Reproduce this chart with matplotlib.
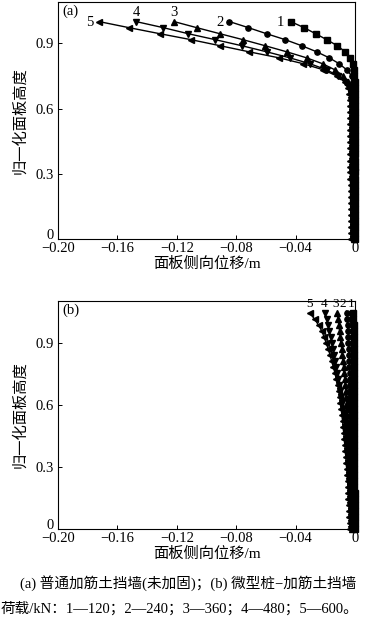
import matplotlib
matplotlib.use("Agg")
import matplotlib.pyplot as plt

plt.rcParams['font.family'] = ['Liberation Serif', 'Noto Sans CJK SC', 'DejaVu Sans']
plt.rcParams['axes.unicode_minus'] = True

# ---------------- data ----------------
heights_a = [0.000, 0.028, 0.056, 0.083, 0.111, 0.139, 0.167, 0.194, 0.222, 0.250,
             0.278, 0.306, 0.333, 0.361, 0.389, 0.417, 0.444, 0.472, 0.500, 0.528,
             0.556, 0.583, 0.611, 0.639, 0.667, 0.694, 0.722, 0.750, 0.778, 0.806,
             0.833, 0.861, 0.889, 0.917, 0.944, 0.972, 1.000]

a_load1 = [-0.0001, -0.0001, -0.0001, -0.0001, -0.0001, -0.0001, -0.0001, -0.0001, -0.0001,
           -0.0002, -0.0002, -0.0002, -0.0002, -0.0002, -0.0002, -0.0002, -0.0002, -0.0002,
           -0.0003, -0.0003, -0.0003, -0.0003, -0.0003, -0.0003, -0.0003, -0.0003, -0.0003,
           -0.0004, -0.0006, -0.0012, -0.0034, -0.0067, -0.0119, -0.0191, -0.0265, -0.0343, -0.0433]
a_load2 = [-0.0004, -0.0004, -0.0004, -0.0004, -0.0004, -0.0004,
           -0.0005, -0.0005, -0.0005, -0.0005, -0.0005, -0.0005,
           -0.0006, -0.0006, -0.0006, -0.0006, -0.0006, -0.0006,
           -0.0007, -0.0007, -0.0007, -0.0007, -0.0008, -0.0008, -0.0008,
           -0.0009, -0.0012, -0.0022, -0.0056, -0.0106, -0.0173, -0.0258, -0.0359,
           -0.0471, -0.0595, -0.0718, -0.0846]
a_load3 = [-0.0008, -0.0008, -0.0008, -0.0009, -0.0009, -0.0009, -0.0010, -0.0010, -0.0010,
           -0.0011, -0.0011, -0.0011, -0.0012, -0.0012, -0.0012, -0.0013, -0.0013, -0.0013,
           -0.0014, -0.0014, -0.0014, -0.0015, -0.0015, -0.0015,
           -0.0018, -0.0025, -0.0045, -0.0079, -0.0135, -0.0218, -0.0325, -0.0460,
           -0.0606, -0.0756, -0.0909, -0.1066, -0.1219]
a_load4 = [-0.0012, -0.0012, -0.0013, -0.0013, -0.0014, -0.0014, -0.0015, -0.0015, -0.0016,
           -0.0016, -0.0017, -0.0017, -0.0018, -0.0018, -0.0019, -0.0019, -0.0020, -0.0020,
           -0.0020, -0.0021, -0.0021, -0.0022, -0.0022,
           -0.0025, -0.0030, -0.0040, -0.0067, -0.0112, -0.0191, -0.0303, -0.0438,
           -0.0595, -0.0763, -0.0943, -0.1122, -0.1291, -0.1475]
a_load5 = [-0.0028, -0.0028, -0.0028, -0.0029, -0.0029, -0.0029, -0.0030, -0.0030, -0.0030,
           -0.0030, -0.0031, -0.0031, -0.0031, -0.0031, -0.0032, -0.0032, -0.0032, -0.0033,
           -0.0033, -0.0033, -0.0034, -0.0034, -0.0034,
           -0.0035, -0.0038, -0.0045, -0.0067, -0.0123, -0.0213, -0.0348, -0.0510,
           -0.0714, -0.0909, -0.1106, -0.1313, -0.1522, -0.1724]

heights_b = [0.000, 0.029, 0.058, 0.087, 0.116, 0.145, 0.174, 0.203, 0.232, 0.261,
             0.290, 0.319, 0.348, 0.377, 0.406, 0.435, 0.464, 0.493, 0.522, 0.551,
             0.580, 0.609, 0.638, 0.667, 0.696, 0.725, 0.754, 0.783, 0.812, 0.841,
             0.870, 0.899, 0.928, 0.957, 0.986, 1.015, 1.044]

b_load1 = [-0.0002, -0.0002, -0.0002, -0.0003, -0.0003, -0.0003, -0.0003, -0.0004, -0.0004,
           -0.0004, -0.0004, -0.0005, -0.0005, -0.0005, -0.0005, -0.0006, -0.0006, -0.0006,
           -0.0006, -0.0007, -0.0007, -0.0007, -0.0007, -0.0008, -0.0008, -0.0008, -0.0008,
           -0.0009, -0.0009, -0.0009, -0.0009, -0.0010, -0.0010, -0.0010, -0.0010, -0.0011, -0.0011]
b_load2 = [-0.0010, -0.0011, -0.0011, -0.0012, -0.0013, -0.0013, -0.0014, -0.0015, -0.0016,
           -0.0017, -0.0018, -0.0019, -0.0020, -0.0021, -0.0023, -0.0024, -0.0026, -0.0027,
           -0.0029, -0.0030, -0.0031, -0.0032, -0.0033, -0.0034, -0.0035, -0.0036, -0.0037,
           -0.0038, -0.0039, -0.0041, -0.0042, -0.0044, -0.0046, -0.0048, -0.0050, -0.0053, -0.0056]
b_load3 = [-0.0018, -0.0019, -0.0020, -0.0021, -0.0022, -0.0023, -0.0025, -0.0026, -0.0028,
           -0.0029, -0.0031, -0.0033, -0.0035, -0.0037, -0.0040, -0.0043, -0.0046, -0.0049,
           -0.0051, -0.0053, -0.0055, -0.0057, -0.0060, -0.0063, -0.0066, -0.0069, -0.0073,
           -0.0077, -0.0081, -0.0085, -0.0089, -0.0094, -0.0099, -0.0104, -0.0109, -0.0114, -0.0119]
b_load4 = [-0.0026, -0.0027, -0.0029, -0.0030, -0.0032, -0.0034, -0.0035, -0.0037, -0.0039,
           -0.0041, -0.0043, -0.0046, -0.0049, -0.0052, -0.0055, -0.0058, -0.0062, -0.0066,
           -0.0070, -0.0075, -0.0080, -0.0086, -0.0092, -0.0099, -0.0106, -0.0113, -0.0120,
           -0.0127, -0.0134, -0.0141, -0.0148, -0.0156, -0.0164, -0.0172, -0.0181, -0.0191, -0.0202]
b_load5 = [-0.0034, -0.0036, -0.0038, -0.0040, -0.0042, -0.0044, -0.0046, -0.0048, -0.0050,
           -0.0053, -0.0056, -0.0059, -0.0062, -0.0065, -0.0069, -0.0072, -0.0076, -0.0080,
           -0.0084, -0.0088, -0.0093, -0.0098, -0.0104, -0.0110, -0.0117, -0.0125, -0.0135,
           -0.0146, -0.0157, -0.0168, -0.0180, -0.0194, -0.0208, -0.0223, -0.0245, -0.0272, -0.0303]

curve_names = ["1", "2", "3", "4", "5"]
markers = ['s', 'o', '^', 'v', '<']
x_ticks = [-0.20, -0.16, -0.12, -0.08, -0.04, 0.0]
x_ticklabels = ["\u22120.20", "\u22120.16", "\u22120.12", "\u22120.08", "\u22120.04", "0"]
y_ticks = [0, 0.3, 0.6, 0.9]
y_ticklabels = ["0", "0.3", "0.6", "0.9"]
xlabel = "面板侧向位移/m"
ylabel = "归一化面板高度"
caption1 = "(a) 普通加筋土挡墙(未加固)；(b) 微型桩\u2212加筋土挡墙"
caption2 = "荷载/kN：1—120；2—240；3—360；4—480；5—600。"

# ---------------- figure ----------------
W, H = 369, 619
fig = plt.figure(figsize=(W / 100, H / 100), dpi=100)

def px_axes(l, t, r, b):
    return [l / W, 1 - b / H, (r - l) / W, (b - t) / H]

ax_a = fig.add_axes(px_axes(58, 2, 355, 239))
ax_b = fig.add_axes(px_axes(58, 301, 355, 529))

def style(ax, ymax, tag):
    ax.set_xlim(-0.20, 0.0)
    ax.set_ylim(0, ymax)
    ax.set_xticks(x_ticks)
    ax.set_xticklabels(x_ticklabels)
    ax.set_yticks(y_ticks)
    ax.set_yticklabels(y_ticklabels)
    ax.tick_params(direction='in', length=3, width=0.7, labelsize=10.5)
    ax.tick_params(axis='x', pad=2.5)
    ax.tick_params(axis='y', pad=3)
    ax.get_yticklabels()[0].set_va('baseline')
    for s in ax.spines.values():
        s.set_linewidth(0.8)
    ax.set_xlabel(xlabel, fontsize=11, labelpad=1)
    ax.set_ylabel(ylabel, fontsize=11, labelpad=6)
    ax.text(0.015, 0.988, tag, transform=ax.transAxes, ha='left', va='top', fontsize=10.5)

series_a = [a_load1, a_load2, a_load3, a_load4, a_load5]
series_b = [b_load1, b_load2, b_load3, b_load4, b_load5]

for xs, m in zip(series_a, markers):
    ax_a.plot(xs, heights_a, color='black', lw=1.0, marker=m, ms=3.8,
              mfc='black', mec='black', clip_on=False)
for xs, m in zip(series_b, markers):
    ax_b.plot(xs, heights_b, color='black', lw=1.0, marker=m, ms=3.8,
              mfc='black', mec='black', clip_on=False)

style(ax_a, 1.09, "(a)")
style(ax_b, 1.103, "(b)")

# curve labels (a)
label_pos_a = [(-0.0505, 0.998), (-0.0909, 0.998), (-0.1219, 1.044), (-0.1475, 1.044), (-0.1785, 0.998)]
for name, (lx, ly) in zip(curve_names, label_pos_a):
    ax_a.text(lx, ly, name, ha='center', va='center', fontsize=10.5)

# curve labels (b) with leader lines
label_pos_b = [(-0.0028, 1.089), (-0.0080, 1.089), (-0.0130, 1.089), (-0.0209, 1.089), (-0.0308, 1.089)]
for i, (name, (lx, ly)) in enumerate(zip(curve_names, label_pos_b)):
    ax_b.text(lx, ly, name, ha='center', va='center', fontsize=9.5)
    if i < 3:
        xs = series_b[i]
        ax_b.annotate("", xy=(xs[-1], heights_b[-1] + 0.01), xytext=(lx + 0.0008, ly - 0.02),
                      arrowprops=dict(arrowstyle='-', lw=0.5, color='black'))

fig.text(188 / W, 1 - 583 / H, caption1, ha='center', va='center', fontsize=10.5)
fig.text(1 / W, 1 - 609 / H, caption2, ha='left', va='center', fontsize=10.5)

fig.savefig("out.png", dpi=100)
